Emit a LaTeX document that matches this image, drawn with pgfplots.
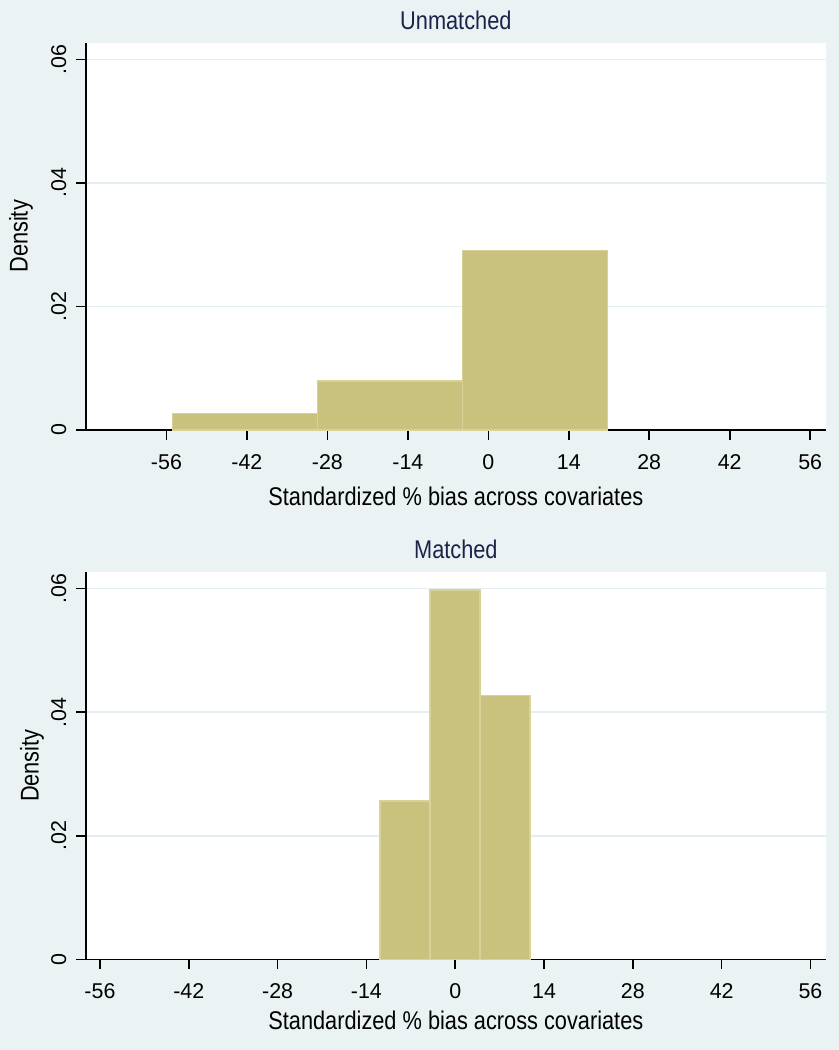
\documentclass[border=0pt]{standalone}
\usepackage{pgfplots}
\pgfplotsset{compat=1.18}
\usepackage{fontspec}
\setmainfont{Liberation Sans}[FakeStretch=0.85]
\newfontfamily\tickfont{Liberation Sans}
\definecolor{bg}{RGB}{234,242,243}
\definecolor{barfill}{RGB}{201,194,127}
\definecolor{barline}{RGB}{216,210,152}
\definecolor{titlec}{RGB}{26,36,72}
\definecolor{gridc}{RGB}{228,238,242}

\pgfplotsset{
  stbase/.style={
    scale only axis, width=369.85pt, height=193.65pt,
    axis lines*=left,
    axis line style={black, line width=0.8pt},
    axis background/.style={fill=white},
    ymin=0, ymax=0.0627,
    scaled y ticks=false, scaled x ticks=false,
    xtick={-56,-42,-28,-14,0,14,28,42,56},
    ytick={0,0.02,0.04,0.06},
    yticklabels={0,.02,.04,.06},
    ymajorgrids,
    grid style={gridc, line width=0.8pt},
    tick align=outside, major tick length=4.8pt,
    tick style={black, line width=0.8pt},
    /pgf/number format/assume math mode=true,
    tick label style={font=\tickfont\fontsize{10.7}{12}\selectfont},
    x tick label style={anchor=base},
    xticklabel shift=14.85pt,
    y tick label style={rotate=90, anchor=base},
    yticklabel shift=5.2pt,
    label style={font=\fontsize{12.8}{14}\selectfont},
    xlabel={Standardized \% bias across covariates},
    ylabel={Density},
    every axis title shift=0pt,
    title style={font=\fontsize{12.8}{14}\selectfont, text=titlec,
      at={(axis description cs:0.5,1)}, anchor=base, yshift=6.8pt},
  }
}

\begin{document}
\begin{tikzpicture}
\fill[bg] (0,0) rectangle (419.5pt,-525pt);
\useasboundingbox (0,0) rectangle (419.5pt,-525pt);

\begin{axis}[stbase,
  at={(43pt,-215pt)}, anchor=south west,
  xmin=-70, xmax=58.7,
  title={Unmatched},
  xlabel style={at={(axis description cs:0.5,-0.195)}, anchor=base},
  ylabel style={at={(axis description cs:-0.0879,0.5)}, anchor=center},
]
\addplot[ybar interval, fill=barfill, draw=barline, line width=0.75pt]
  coordinates {(-54.96,0.0027) (-29.74,0.0079) (-4.52,0.0291) (20.70,0.0291)};
\end{axis}

\begin{axis}[stbase,
  at={(43pt,-479.65pt)}, anchor=south west,
  xmin=-58.2, xmax=58.4,
  title={Matched},
  xlabel style={at={(axis description cs:0.5,-0.181)}, anchor=base},
  ylabel style={at={(axis description cs:-0.073,0.5)}, anchor=center},
]
\addplot[ybar interval, fill=barfill, draw=barline, line width=0.75pt]
  coordinates {(-11.88,0.0256) (-3.99,0.0598) (3.90,0.0427) (11.78,0.0427)};
\end{axis}
\end{tikzpicture}
\end{document}
